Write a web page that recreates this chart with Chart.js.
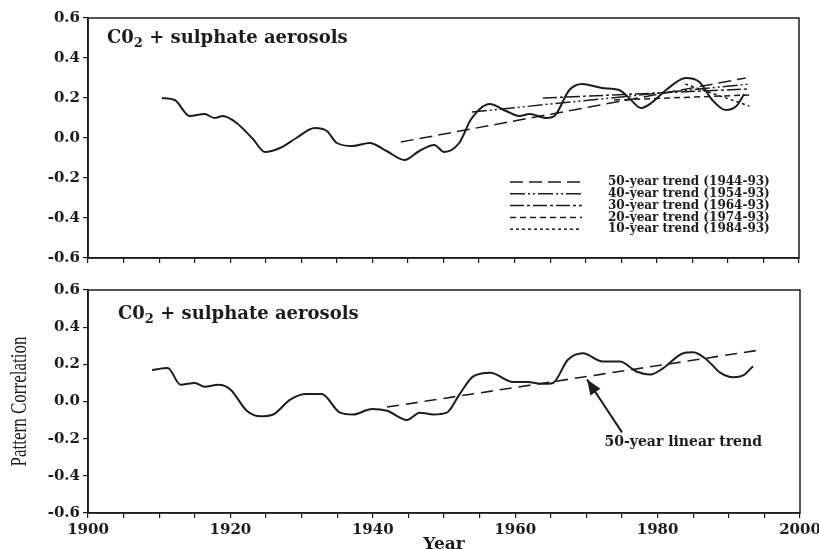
<!DOCTYPE html>
<html>
<head>
<meta charset="utf-8">
<script src="https://cdn.jsdelivr.net/npm/chart.js@4.4.1/dist/chart.umd.min.js"></script>
<style>
  html, body { margin: 0; padding: 0; background: #fff; overflow: hidden; }
  #top { position: absolute; left: 0; top: 0; width: 819px; height: 270px; }
  #bottom { position: absolute; left: 0; top: 270px; width: 819px; height: 285px; }
</style>
</head>
<body>
<div id="top"><canvas id="chartTop"></canvas></div>
<div id="bottom"><canvas id="chartBottom"></canvas></div>
<script>
// ---- DATOS ----
const topYears = [1910.4, 1912.2, 1914.3, 1916.4, 1917.8, 1919, 1920.9, 1923.2, 1924.9, 1927, 1929.3, 1931.9,
  1933.6, 1935, 1937.2, 1939.6, 1942, 1944.5, 1946.6, 1948.7, 1950.1, 1952.2, 1953.9, 1956.5, 1958.8, 1960.7,
  1962.1, 1964.5, 1965.6, 1967.7, 1969.5, 1972.3, 1974.7, 1976.1, 1977.8, 1979.4, 1981.3, 1984.1, 1986, 1987.8,
  1989.7, 1991.2, 1992.3];
const topValues = [0.20, 0.19, 0.11, 0.12, 0.10, 0.11, 0.075, -0.005, -0.07, -0.05, 0.0, 0.05,
  0.035, -0.025, -0.04, -0.025, -0.065, -0.11, -0.065, -0.035, -0.07, -0.025, 0.095, 0.17, 0.135, 0.11,
  0.12, 0.10, 0.11, 0.24, 0.27, 0.25, 0.24, 0.20, 0.15, 0.18, 0.24, 0.30, 0.28, 0.19,
  0.14, 0.16, 0.22];

const trendNames = ["50-year trend (1944-93)", "40-year trend (1954-93)", "30-year trend (1964-93)",
  "20-year trend (1974-93)", "10-year trend (1984-93)"];
const trendStartYears = [1944, 1954, 1964, 1974, 1984];
const trendEndYears = [1992.5, 1993, 1993, 1993, 1993];
const trendStartValues = [-0.02, 0.13, 0.20, 0.19, 0.27];
const trendEndValues = [0.30, 0.27, 0.245, 0.215, 0.16];

const bottomYears = [1909, 1911.2, 1913, 1915, 1916.4, 1918.3, 1920, 1922.3, 1924.2, 1926, 1928.4, 1930.7,
  1932.8, 1935.4, 1937.2, 1939.9, 1942, 1944.8, 1946.6, 1948.5, 1950.4, 1952.2, 1954.1, 1956.5, 1959.7, 1961.7,
  1963.9, 1965.3, 1967.4, 1969.5, 1972.3, 1974.7, 1977.1, 1979, 1980.8, 1983.6, 1985, 1986.9, 1988.8, 1990.6,
  1992, 1993.4];
const bottomValues = [0.17, 0.18, 0.09, 0.10, 0.08, 0.09, 0.065, -0.05, -0.08, -0.07, 0.01, 0.04,
  0.04, -0.06, -0.07, -0.04, -0.05, -0.10, -0.06, -0.07, -0.06, 0.04, 0.135, 0.155, 0.105, 0.105,
  0.095, 0.10, 0.225, 0.26, 0.215, 0.215, 0.16, 0.145, 0.18, 0.26, 0.265, 0.225, 0.155, 0.13,
  0.14, 0.19];

const linearTrendYears = [1942, 1994];
const linearTrendValues = [-0.03, 0.275];
const arrowYears = [1975, 1970.1];
const arrowValues = [-0.166, 0.118];

const xLabelTicks = [1900, 1920, 1940, 1960, 1980, 2000];
const yLabelTicks = [-0.6, -0.4, -0.2, 0.0, 0.2, 0.4, 0.6];

// ---- ESTILO ----
const INK = "#1c1c1c";
Chart.defaults.font.family = "'DejaVu Serif', serif";
Chart.defaults.color = INK;
const trendDashes = [[13, 6], [15, 3, 2, 3, 2, 3], [14, 3, 3, 3], [6, 4], [3, 3]];

const pts = (xs, ys) => xs.map((x, i) => ({ x: x, y: ys[i] }));

function yAxis() {
  return {
    type: "linear", min: -0.6, max: 0.6,
    afterFit: s => { s.width = 88; },
    ticks: {
      stepSize: 0.1, padding: 3, font: { size: 15, weight: "bold" },
      callback: v => {
        const r = Math.round(v * 10) / 10;
        return yLabelTicks.some(t => Math.abs(t - r) < 1e-6) ? r.toFixed(1) : "";
      }
    },
    grid: { drawOnChartArea: false, tickLength: 5, color: INK, lineWidth: 1.2 },
    border: { color: INK, width: 1.8 }
  };
}

function xAxis(withLabels, height) {
  return {
    type: "linear", min: 1900, max: 2000,
    afterFit: s => { s.height = height; s.paddingLeft = 0; s.paddingRight = 0; },
    ticks: {
      stepSize: 5, autoSkip: false, maxRotation: 0, padding: 3, font: { size: 15, weight: "bold" },
      callback: v => (withLabels && xLabelTicks.includes(v)) ? String(v) : ""
    },
    grid: { drawOnChartArea: false, tickLength: 5, color: INK, lineWidth: 1.2 },
    border: { color: INK, width: 1.5 },
    title: withLabels
      ? { display: true, text: "Year", font: { size: 17, weight: "bold" }, padding: { bottom: 0 } }
      : { display: false }
  };
}

// marco + título dentro del gráfico
function drawPanelTitle(ctx, x, y) {
  ctx.save();
  ctx.fillStyle = INK;
  ctx.textBaseline = "alphabetic";
  ctx.font = "bold 18px 'DejaVu Serif'";
  ctx.fillText("C0", x, y);
  let w = ctx.measureText("C0").width;
  ctx.font = "bold 13px 'DejaVu Serif'";
  ctx.fillText("2", x + w, y + 4);
  w += ctx.measureText("2").width;
  ctx.font = "bold 18px 'DejaVu Serif'";
  ctx.fillText(" + sulphate aerosols", x + w, y);
  ctx.restore();
}

const framePlugin = {
  id: "frame",
  afterDraw(chart) {
    const { ctx, chartArea: a } = chart;
    ctx.save();
    ctx.strokeStyle = INK;
    ctx.lineWidth = 1.5;
    ctx.strokeRect(a.left, a.top, a.right - a.left, a.bottom - a.top);
    ctx.restore();
    const o = chart.options.plugins.frame;
    drawPanelTitle(ctx, a.left + o.titleDx, a.top + o.titleDy);
    if (o.yTitle) {
      // título del eje Y, algo estirado como en el original escaneado
      ctx.save();
      ctx.fillStyle = INK;
      ctx.font = "17px 'Liberation Serif'";
      ctx.textAlign = "center";
      ctx.textBaseline = "middle";
      ctx.translate(20, (a.top + a.bottom) / 2);
      ctx.scale(1.35, 1);
      ctx.rotate(-Math.PI / 2);
      ctx.fillText(o.yTitle, 0, 0);
      ctx.restore();
    }
  }
};

// leyenda de tendencias (panel superior)
const trendLegendPlugin = {
  id: "trendLegend",
  afterDraw(chart) {
    const { ctx } = chart;
    ctx.save();
    ctx.font = "bold 12px 'DejaVu Serif'";
    ctx.fillStyle = INK;
    ctx.strokeStyle = INK;
    ctx.lineWidth = 1.5;
    ctx.textBaseline = "middle";
    chart.data.datasets.filter(d => d.isTrend).forEach((d, i) => {
      const y = 182 + i * 11.8;
      ctx.setLineDash(d.borderDash);
      ctx.beginPath();
      ctx.moveTo(510, y);
      ctx.lineTo(582, y);
      ctx.stroke();
      ctx.setLineDash([]);
      ctx.fillText(d.label, 608, y);
    });
    ctx.restore();
  }
};

// flecha y texto (panel inferior)
const arrowPlugin = {
  id: "arrowNote",
  afterDraw(chart) {
    const { ctx, scales: { x, y } } = chart;
    const tx = x.getPixelForValue(arrowYears[0]), ty = y.getPixelForValue(arrowValues[0]);
    const hx = x.getPixelForValue(arrowYears[1]), hy = y.getPixelForValue(arrowValues[1]);
    const ang = Math.atan2(hy - ty, hx - tx);
    const len = 15, half = 6;
    ctx.save();
    ctx.fillStyle = INK;
    ctx.beginPath();
    ctx.moveTo(hx, hy);
    ctx.lineTo(hx - len * Math.cos(ang) + half * Math.sin(ang), hy - len * Math.sin(ang) - half * Math.cos(ang));
    ctx.lineTo(hx - len * Math.cos(ang) - half * Math.sin(ang), hy - len * Math.sin(ang) + half * Math.cos(ang));
    ctx.closePath();
    ctx.fill();
    const note = chart.options.plugins.arrowNote;
    ctx.font = "bold 14px 'DejaVu Serif'";
    ctx.textAlign = "center";
    ctx.textBaseline = "middle";
    ctx.fillText("50-year linear trend", x.getPixelForValue(note.x), y.getPixelForValue(note.y));
    ctx.restore();
  }
};

const curveStyle = {
  borderColor: INK, borderWidth: 2, pointRadius: 0,
  cubicInterpolationMode: "monotone", fill: false
};

// ---- PANEL SUPERIOR ----
const topDatasets = [{ label: "curve", data: pts(topYears, topValues), ...curveStyle }];
trendNames.forEach((name, i) => {
  topDatasets.push({
    label: name, isTrend: true,
    data: pts([trendStartYears[i], trendEndYears[i]], [trendStartValues[i], trendEndValues[i]]),
    borderColor: INK, borderWidth: 1.5, borderDash: trendDashes[i], pointRadius: 0, tension: 0
  });
});

new Chart(document.getElementById("chartTop"), {
  type: "line",
  data: { datasets: topDatasets },
  options: {
    responsive: true, maintainAspectRatio: false, animation: false,
    layout: { padding: { top: 18, right: 20, left: 0, bottom: 0 } },
    scales: { x: xAxis(false, 7), y: yAxis() },
    plugins: {
      legend: { display: false }, tooltip: { enabled: false },
      frame: { titleDx: 19, titleDy: 25 }
    }
  },
  plugins: [framePlugin, trendLegendPlugin]
});

// ---- PANEL INFERIOR ----
new Chart(document.getElementById("chartBottom"), {
  type: "line",
  data: {
    datasets: [
      { label: "curve", data: pts(bottomYears, bottomValues), ...curveStyle },
      { label: "trend", data: pts(linearTrendYears, linearTrendValues),
        borderColor: INK, borderWidth: 1.6, borderDash: [12, 7], pointRadius: 0, tension: 0 },
      { label: "arrow", data: pts(arrowYears, arrowValues),
        borderColor: INK, borderWidth: 2, pointRadius: 0, tension: 0 }
    ]
  },
  options: {
    responsive: true, maintainAspectRatio: false, animation: false,
    layout: { padding: { top: 20, right: 19, left: 0, bottom: 0 } },
    scales: { x: xAxis(true, 42), y: yAxis() },
    plugins: {
      legend: { display: false }, tooltip: { enabled: false },
      frame: { titleDx: 30, titleDy: 29, yTitle: "Pattern Correlation" },
      arrowNote: { x: 1983.6, y: -0.22 }
    }
  },
  plugins: [framePlugin, arrowPlugin]
});
</script>
</body>
</html>
